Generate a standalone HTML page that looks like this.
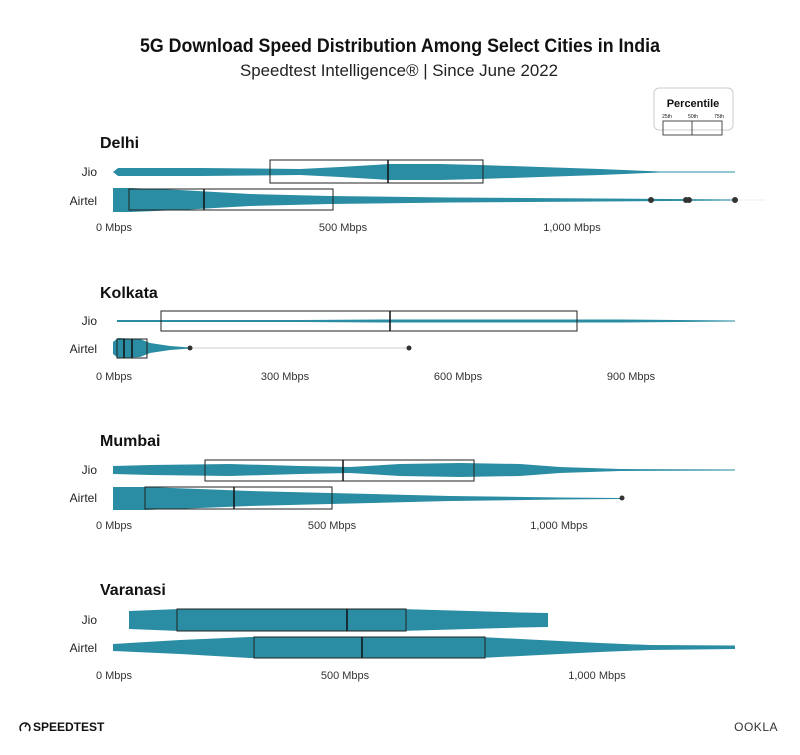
<!DOCTYPE html>
<html><head><meta charset="utf-8"><style>
body{margin:0;background:#fff;}
svg{display:block;font-family:"Liberation Sans",sans-serif;}
.city{font-weight:bold;font-size:16px;fill:#111;}
.row{font-size:12px;fill:#222;text-anchor:end;}
.ax{font-size:11px;fill:#333;}
.v{fill:#2a8da3;}
.b{fill:none;stroke:#222;stroke-width:1;}
.m{stroke:#111;stroke-width:1.5;}
</style></head><body>
<svg width="800" height="755" viewBox="0 0 800 755">
<rect width="800" height="755" fill="#fff"/>
<text x="140" y="52" textLength="520" lengthAdjust="spacingAndGlyphs" font-size="19" font-weight="bold" fill="#111">5G Download Speed Distribution Among Select Cities in India</text>
<text x="240" y="76" textLength="318" lengthAdjust="spacingAndGlyphs" font-size="17" fill="#222">Speedtest Intelligence® | Since June 2022</text>
<!-- legend -->
<rect x="654" y="88" width="79" height="42" rx="5" fill="#fff" stroke="#ccc"/>
<text x="693" y="107" text-anchor="middle" font-size="11" font-weight="bold" fill="#111">Percentile</text>
<text x="667" y="118" text-anchor="middle" font-size="5" fill="#111">25th</text>
<text x="693" y="118" text-anchor="middle" font-size="5" fill="#111">50th</text>
<text x="719" y="118" text-anchor="middle" font-size="5" fill="#111">75th</text>
<rect x="663" y="121" width="59" height="14" fill="none" stroke="#222" stroke-width="0.8"/>
<line x1="692" y1="121" x2="692" y2="135" stroke="#222" stroke-width="0.8"/>

<!-- Delhi -->
<text x="100" y="148" class="city">Delhi</text>
<text x="97" y="176" class="row">Jio</text>
<text x="97" y="205" class="row">Airtel</text>
<path class="v" d="M113,172 L118,168 200,168 300,169 340,167 390,164 440,164 480,165 540,167 600,169 660,171.5 735,171.5 735,172.5 660,172.5 600,175 540,177 480,179 440,180 390,180 340,177 300,175 200,176 118,176 Z"/>
<rect class="b" x="270" y="160" width="213" height="23"/>
<line class="m" x1="388" y1="160" x2="388" y2="183"/>
<path class="v" d="M113,188 L130,188 180,190 250,194 330,196 450,197.5 600,198.5 735,199.5 735,200.5 600,201.5 450,202.5 330,204 250,206 180,210 130,212 113,212 Z"/>
<rect class="b" x="129" y="189" width="204" height="21"/>
<line class="m" x1="204" y1="189" x2="204" y2="210"/>
<line x1="735" y1="200" x2="765" y2="200" stroke="#eee"/>
<circle cx="651" cy="200" r="3" fill="#333"/><circle cx="686" cy="200" r="3" fill="#333"/><circle cx="689" cy="200" r="3" fill="#333"/><circle cx="735" cy="200" r="3" fill="#333"/>
<text x="114" y="231" class="ax" text-anchor="middle">0 Mbps</text>
<text x="343" y="231" class="ax" text-anchor="middle">500 Mbps</text>
<text x="572" y="231" class="ax" text-anchor="middle">1,000 Mbps</text>

<!-- Kolkata -->
<text x="100" y="298" class="city">Kolkata</text>
<text x="97" y="325" class="row">Jio</text>
<text x="97" y="353" class="row">Airtel</text>
<path class="v" d="M117,320 L300,320 380,319.5 560,319.5 620,319.5 735,320.5 735,321.5 620,322.5 560,322.5 380,322.5 300,322 117,322 Z"/>
<rect class="b" x="161" y="311" width="416" height="20"/>
<line class="m" x1="390" y1="311" x2="390" y2="331"/>
<line x1="190" y1="348" x2="409" y2="348" stroke="#bbb" stroke-width="0.8"/>
<path class="v" d="M113,342 L118,338 140,339 150,343 170,346 190,347.5 190,348.5 170,350 150,353 140,357 118,358 113,354 Z"/>
<rect class="b" x="117" y="339" width="30" height="19"/>
<line class="m" x1="124" y1="339" x2="124" y2="358"/>
<line class="m" x1="132" y1="339" x2="132" y2="358"/>
<circle cx="190" cy="348" r="2.5" fill="#333"/><circle cx="409" cy="348" r="2.5" fill="#333"/>
<text x="114" y="380" class="ax" text-anchor="middle">0 Mbps</text>
<text x="285" y="380" class="ax" text-anchor="middle">300 Mbps</text>
<text x="458" y="380" class="ax" text-anchor="middle">600 Mbps</text>
<text x="631" y="380" class="ax" text-anchor="middle">900 Mbps</text>

<!-- Mumbai -->
<text x="100" y="446" class="city">Mumbai</text>
<text x="97" y="474" class="row">Jio</text>
<text x="97" y="502" class="row">Airtel</text>
<path class="v" d="M113,466 L150,465 230,464 300,466 350,467 400,464 460,463 520,464 560,467 620,469 735,469.5 735,470.5 620,471 560,473 520,476 460,477 400,476 350,473 300,474 230,476 150,475 113,474 Z"/>
<rect class="b" x="205" y="460" width="269" height="21"/>
<line class="m" x1="343" y1="460" x2="343" y2="481"/>
<path class="v" d="M113,487 L145,487 200,489 250,491 330,493 450,496 560,497.5 620,498 620,499 560,499.5 450,501 330,504 250,506 200,508 145,510 113,510 Z"/>
<rect class="b" x="145" y="487" width="187" height="22"/>
<line class="m" x1="234" y1="487" x2="234" y2="509"/>
<circle cx="622" cy="498" r="2.5" fill="#333"/>
<text x="114" y="529" class="ax" text-anchor="middle">0 Mbps</text>
<text x="332" y="529" class="ax" text-anchor="middle">500 Mbps</text>
<text x="559" y="529" class="ax" text-anchor="middle">1,000 Mbps</text>

<!-- Varanasi -->
<text x="100" y="595" class="city">Varanasi</text>
<text x="97" y="624" class="row">Jio</text>
<text x="97" y="652" class="row">Airtel</text>
<path class="v" d="M129,611 L180,609 300,609 400,609 470,611 520,612.5 548,613 548,627 520,627.5 470,629 400,631 300,631 180,631 129,629 Z"/>
<rect class="b" x="177" y="609" width="229" height="22"/>
<line class="m" x1="347" y1="609" x2="347" y2="631"/>
<path class="v" d="M113,644 L180,640 250,637 400,637 480,637 540,640 600,643 650,645 735,645.5 735,649 650,650 600,652 540,655 480,658 400,658 250,658 180,654 113,651 Z"/>
<rect class="b" x="254" y="637" width="231" height="21"/>
<line class="m" x1="362" y1="637" x2="362" y2="658"/>
<text x="114" y="679" class="ax" text-anchor="middle">0 Mbps</text>
<text x="345" y="679" class="ax" text-anchor="middle">500 Mbps</text>
<text x="597" y="679" class="ax" text-anchor="middle">1,000 Mbps</text>

<!-- footer -->
<path d="M21,731 A5,5 0 1 1 29,731" fill="none" stroke="#111" stroke-width="1.5"/>
<line x1="25" y1="727" x2="27" y2="723" stroke="#111" stroke-width="1.3"/>
<text x="33" y="731" font-size="12" font-weight="bold" fill="#111">SPEEDTEST</text>
<text x="778" y="731" text-anchor="end" font-size="12" fill="#333" letter-spacing="0.5">OOKLA</text>
</svg>
</body></html>
